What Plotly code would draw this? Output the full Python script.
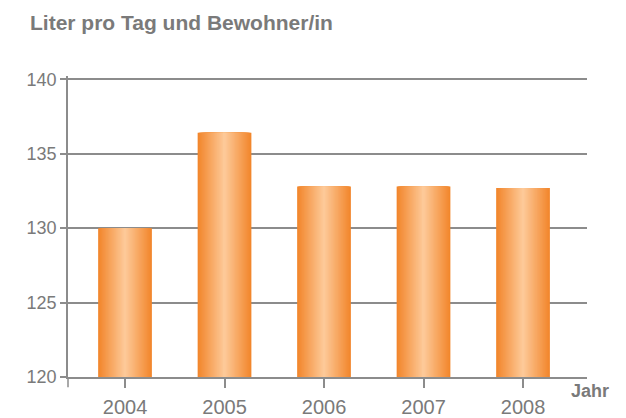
import plotly.graph_objects as go

years = ["2004", "2005", "2006", "2007", "2008"]
liters = [130.0, 136.4, 132.8, 132.8, 132.7]
y_ticks = [120, 125, 130, 135, 140]
title_text = "Liter pro Tag und Bewohner/in"
x_title = "Jahr"

GRAY = "#8c8c8c"
TEXT = "#7a7a7a"
dark = (242, 134, 44)
light = (253, 201, 152)
BAR_W = 0.54
N = 27

fig = go.Figure()
for k in range(N):
    t = k / (N - 1)
    c = tuple(round(dark[i] + (light[i] - dark[i]) * t) for i in range(3))
    w = BAR_W * (1 - k / N)
    fig.add_trace(go.Bar(
        x=years, y=liters, width=w,
        marker=dict(color="rgb(%d,%d,%d)" % c, line=dict(width=0)),
        hoverinfo="skip" if k else "x+y", showlegend=False,
    ))

fig.update_layout(
    width=626, height=418,
    margin=dict(l=68, r=39, t=76, b=41, autoexpand=False),
    barmode="overlay",
    plot_bgcolor="white", paper_bgcolor="white",
    font=dict(family="Liberation Sans, Arial, sans-serif", color=TEXT),
    xaxis=dict(
        type="category", range=[-0.573, 4.643], automargin=False,
        showline=True, linecolor=GRAY, linewidth=1.5,
        ticks="outside", ticklen=9, tickcolor=GRAY, tickwidth=1.5,
        tickfont=dict(size=20, color=TEXT), showgrid=False,
        ticklabelstandoff=2,
    ),
    yaxis=dict(
        range=[120, 140.22], tickvals=y_ticks, automargin=False,
        showline=True, linecolor=GRAY, linewidth=1.5,
        ticks="outside", ticklen=6, tickcolor=GRAY, tickwidth=1.5,
        tickfont=dict(size=18, color=TEXT),
        showgrid=True, gridcolor=GRAY, gridwidth=1.5, zeroline=False,
    ),
    shapes=[dict(type="line", xref="paper", yref="paper",
                 x0=0, x1=0, y0=0, y1=-0.034,
                 line=dict(color=GRAY, width=1.5))],
    annotations=[
        dict(text="<b>" + title_text + "</b>", xref="paper", yref="paper",
             x=-0.077, y=1.178, xanchor="left", yanchor="middle",
             showarrow=False, font=dict(size=21, color=TEXT)),
        dict(text="<b>" + x_title + "</b>", xref="paper", yref="paper",
             x=0.966, y=-0.048, xanchor="left", yanchor="middle",
             showarrow=False, font=dict(size=18, color=TEXT)),
    ],
)

fig.write_html("out.html", config={"displayModeBar": False},
               post_script="document.body.style.margin='0';")
